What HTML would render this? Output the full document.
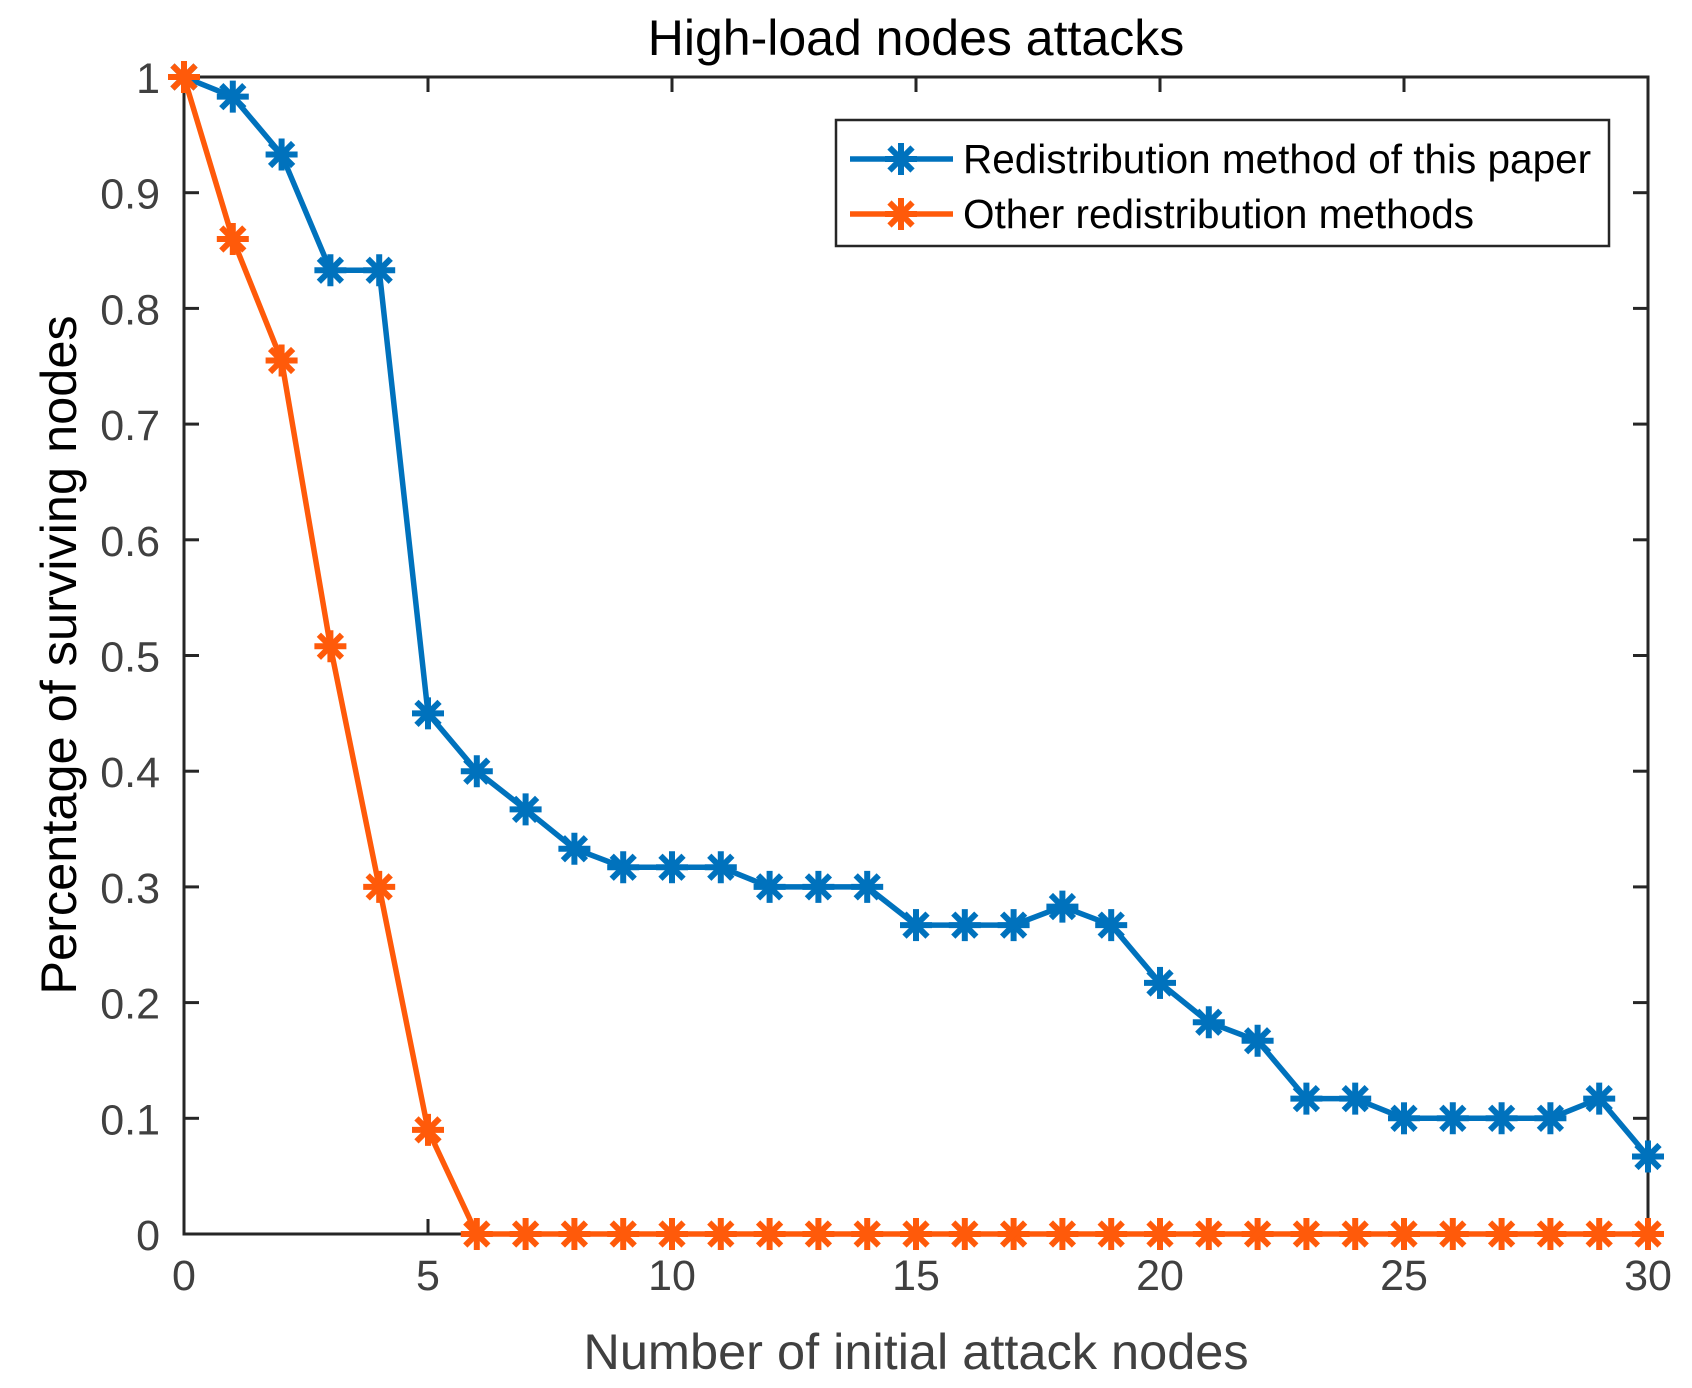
<!DOCTYPE html>
<html><head><meta charset="utf-8"><style>
html,body{margin:0;padding:0;background:#fff}
svg{display:block;font-family:"Liberation Sans",Arial,sans-serif}
</style></head><body>
<svg id="chart" width="1692" height="1388" viewBox="0 0 1692 1388"></svg>
<script>
const xValues = [0,1,2,3,4,5,6,7,8,9,10,11,12,13,14,15,16,17,18,19,20,21,22,23,24,25,26,27,28,29,30];
const blueValues = [1,0.983,0.933,0.833,0.833,0.45,0.4,0.367,0.333,0.317,0.317,0.317,0.3,0.3,0.3,0.267,0.267,0.267,0.283,0.267,0.217,0.183,0.167,0.117,0.117,0.1,0.1,0.1,0.1,0.117,0.067];
const orangeValues = [1,0.86,0.755,0.508,0.3,0.09,0,0,0,0,0,0,0,0,0,0,0,0,0,0,0,0,0,0,0,0,0,0,0,0,0];
const xTicks = [0,5,10,15,20,25,30];
const yTicks = [0,0.1,0.2,0.3,0.4,0.5,0.6,0.7,0.8,0.9,1];
const yTickLabels = ["0","0.1","0.2","0.3","0.4","0.5","0.6","0.7","0.8","0.9","1"];
const seriesNames = ["Redistribution method of this paper","Other redistribution methods"];

const L=184,R=1648,T=77,B=1234;
const sx=v=>L+(v-0)/(30-0)*(R-L);
const sy=v=>B-(v-0)/(1-0)*(B-T);
const NS="http://www.w3.org/2000/svg";
const svg=document.getElementById('chart');
function mk(tag,attrs,parent){const e=document.createElementNS(NS,tag);for(const k in attrs)e.setAttribute(k,attrs[k]);(parent||svg).appendChild(e);return e;}

const box=mk('rect',{x:L,y:T,width:R-L,height:B-T,fill:'none',stroke:'#262626','stroke-width':3});



xTicks.forEach(t=>{
  const x=sx(t);
  const g=mk('g',{});
  
  
  mk('line',{x1:x,y1:B,x2:x,y2:B-15,stroke:'#262626','stroke-width':3},g);
  mk('line',{x1:x,y1:T,x2:x,y2:T+15,stroke:'#262626','stroke-width':3},g);
  const tx=mk('text',{x:x,y:B+56,'text-anchor':'middle','font-size':43,fill:'#404040'},g);
  tx.textContent=t;
});
yTicks.forEach((t,i)=>{
  const y=sy(t);
  const g=mk('g',{});
  
  
  mk('line',{x1:L,y1:y,x2:L+15,y2:y,stroke:'#262626','stroke-width':3},g);
  mk('line',{x1:R,y1:y,x2:R-15,y2:y,stroke:'#262626','stroke-width':3},g);
  const tx=mk('text',{x:L-24,y:y+16,'text-anchor':'end','font-size':43,fill:'#404040'},g);
  tx.textContent=yTickLabels[i];
});

function star(g,x,y,c){
  const r=16;
  mk('line',{x1:x-r,y1:y,x2:x+r,y2:y,stroke:c,'stroke-width':6},g);
  mk('line',{x1:x,y1:y-r,x2:x,y2:y+r,stroke:c,'stroke-width':6},g);
  const d=r*0.72;
  mk('line',{x1:x-d,y1:y-d,x2:x+d,y2:y+d,stroke:c,'stroke-width':6},g);
  mk('line',{x1:x-d,y1:y+d,x2:x+d,y2:y-d,stroke:c,'stroke-width':6},g);
}
function series(vals,c,name){
  const g=mk('g',{});
  
  
  mk('polyline',{points:vals.map((v,i)=>sx(xValues[i])+','+sy(v)).join(' '),fill:'none',stroke:c,'stroke-width':5.5,'stroke-linejoin':'round'},g);
  vals.forEach((v,i)=>star(g,sx(xValues[i]),sy(v),c));
}
series(blueValues,'#0072BD','series-redistribution-this-paper');
series(orangeValues,'#FF5A0A','series-other-methods');

const title=mk('text',{x:(L+R)/2,y:55,'text-anchor':'middle','font-size':50,fill:'#000'});
title.textContent='High-load nodes attacks';


const xl=mk('text',{x:(L+R)/2,y:1369,'text-anchor':'middle','font-size':50.5,fill:'#404040'});
xl.textContent='Number of initial attack nodes';


const yl=mk('text',{x:0,y:0,'text-anchor':'middle','font-size':50.5,fill:'#000',transform:'translate(76,655) rotate(-90)'});
yl.textContent='Percentage of surviving nodes';



const lg=mk('g',{});


mk('rect',{x:836,y:120,width:773,height:126,fill:'#fff',stroke:'#262626','stroke-width':2.5},lg);
[['#0072BD',159],['#FF5A0A',214]].forEach((e,i)=>{
  const g=mk('g',{},lg);
  
  
  mk('line',{x1:850,y1:e[1],x2:953,y2:e[1],stroke:e[0],'stroke-width':5.5},g);
  star(g,901,e[1],e[0]);
  const t=mk('text',{x:963,y:e[1]+14,'font-size':40.5,fill:'#000'},g);
  t.textContent=seriesNames[i];
});
</script>
</body></html>
